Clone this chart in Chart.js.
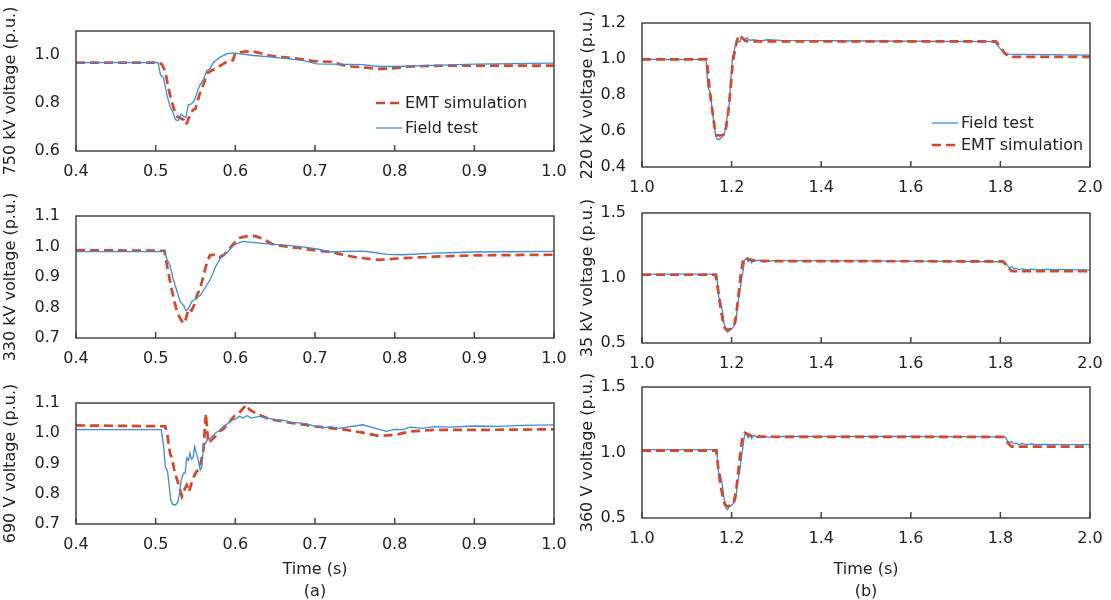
<!DOCTYPE html>
<html><head><meta charset="utf-8">
<script src="https://cdn.jsdelivr.net/npm/chart.js@4.4.1/dist/chart.umd.min.js"></script>
<style>
body{margin:0;background:#fff;width:1111px;height:600px;position:relative;overflow:hidden}
canvas{position:absolute}
</style></head><body>
<canvas id="a1"></canvas><canvas id="a2"></canvas><canvas id="a3"></canvas>
<canvas id="b1"></canvas><canvas id="b2"></canvas><canvas id="b3"></canvas>
<script>
// ---------- labels ----------
const seriesField = 'Field test';
const seriesEmt = 'EMT simulation';
const timeTitle = 'Time (s)';
const panelATitles = ['750 kV voltage (p.u.)', '330 kV voltage (p.u.)', '690 V voltage (p.u.)'];
const panelBTitles = ['220 kV voltage (p.u.)', '35 kV voltage (p.u.)', '360 V voltage (p.u.)'];
const captionA = '(a)';
const captionB = '(b)';

// ---------- (a) 750 kV ----------
const a1FieldT = [0.4,0.503,0.506,0.510,0.514,0.518,0.522,0.525,0.528,0.532,0.535,0.538,0.541,0.545,0.549,0.554,0.556,0.560,0.564,0.568,0.572,0.577,0.581,0.590,0.598,0.606,0.623,0.644,0.665,0.686,0.702,0.72,0.76,0.78,0.80,0.85,0.90,1.0];
const a1FieldV = [0.968,0.968,0.918,0.905,0.835,0.786,0.758,0.730,0.726,0.754,0.744,0.740,0.793,0.796,0.814,0.863,0.877,0.897,0.935,0.942,0.967,0.981,0.991,1.006,1.009,1.005,0.998,0.992,0.985,0.977,0.963,0.962,0.960,0.952,0.952,0.957,0.962,0.966];
const a1EmtT = [0.4,0.505,0.508,0.512,0.516,0.520,0.524,0.527,0.531,0.535,0.538,0.540,0.543,0.547,0.550,0.555,0.560,0.565,0.570,0.575,0.580,0.585,0.590,0.597,0.600,0.610,0.620,0.630,0.640,0.660,0.680,0.700,0.720,0.740,0.760,0.780,0.800,0.820,0.850,0.900,1.0];
const a1EmtV = [0.968,0.968,0.960,0.932,0.862,0.807,0.765,0.744,0.737,0.730,0.709,0.723,0.751,0.772,0.776,0.835,0.877,0.925,0.935,0.944,0.953,0.963,0.974,0.978,1.009,1.013,1.016,1.009,0.999,0.991,0.984,0.974,0.972,0.953,0.949,0.942,0.945,0.952,0.955,0.956,0.956];

// ---------- (a) 330 kV ----------
const a2FieldT = [0.4,0.511,0.514,0.518,0.522,0.527,0.531,0.535,0.538,0.541,0.545,0.550,0.556,0.562,0.569,0.575,0.581,0.590,0.598,0.609,0.624,0.645,0.666,0.687,0.704,0.72,0.74,0.76,0.77,0.79,0.81,0.85,0.9,1.0];
const a2FieldV = [0.983,0.983,0.960,0.938,0.894,0.851,0.818,0.807,0.790,0.796,0.818,0.829,0.840,0.864,0.894,0.933,0.960,0.982,1.004,1.017,1.013,1.008,1.004,0.998,0.991,0.982,0.984,0.985,0.982,0.974,0.973,0.978,0.982,0.984];
const a2EmtT = [0.4,0.511,0.515,0.519,0.523,0.527,0.531,0.535,0.538,0.541,0.545,0.549,0.552,0.556,0.560,0.564,0.568,0.574,0.580,0.585,0.590,0.596,0.600,0.605,0.615,0.625,0.635,0.645,0.660,0.680,0.700,0.720,0.730,0.750,0.780,0.800,0.850,0.900,1.0];
const a2EmtV = [0.988,0.986,0.927,0.873,0.824,0.785,0.763,0.747,0.763,0.796,0.790,0.812,0.840,0.864,0.905,0.944,0.971,0.973,0.965,0.971,0.984,1.004,1.015,1.028,1.034,1.034,1.025,1.009,1.001,0.995,0.987,0.982,0.976,0.965,0.956,0.960,0.967,0.971,0.973];

// ---------- (a) 690 V ----------
const a3FieldT = [0.4,0.507,0.510,0.512,0.515,0.517,0.519,0.521,0.525,0.528,0.530,0.532,0.535,0.537,0.539,0.541,0.543,0.545,0.547,0.549,0.551,0.553,0.556,0.558,0.560,0.565,0.570,0.575,0.580,0.585,0.590,0.595,0.600,0.605,0.610,0.615,0.620,0.630,0.640,0.650,0.660,0.670,0.680,0.690,0.700,0.710,0.720,0.730,0.740,0.750,0.760,0.775,0.790,0.800,0.810,0.820,0.835,0.850,0.870,0.900,0.930,0.960,1.0];
const a3FieldV = [1.012,1.012,0.956,0.890,0.873,0.824,0.780,0.765,0.763,0.774,0.802,0.846,0.868,0.868,0.918,0.910,0.934,0.914,0.921,0.956,0.934,0.918,0.879,0.890,0.956,0.978,0.987,1.001,1.009,1.023,1.031,1.043,1.047,1.056,1.050,1.058,1.050,1.056,1.050,1.045,1.043,1.036,1.034,1.031,1.023,1.018,1.022,1.016,1.020,1.024,1.028,1.017,1.006,1.013,1.012,1.020,1.016,1.022,1.020,1.024,1.023,1.026,1.028];
const a3EmtT = [0.4,0.512,0.515,0.518,0.521,0.524,0.527,0.530,0.533,0.536,0.539,0.542,0.545,0.548,0.551,0.554,0.557,0.560,0.563,0.566,0.570,0.575,0.580,0.585,0.590,0.595,0.600,0.605,0.610,0.614,0.618,0.625,0.630,0.640,0.650,0.660,0.670,0.680,0.700,0.720,0.740,0.760,0.780,0.800,0.820,0.850,0.900,1.0];
const a3EmtV = [1.026,1.023,0.990,0.934,0.912,0.868,0.846,0.818,0.791,0.813,0.829,0.807,0.835,0.857,0.873,0.879,0.907,0.945,1.065,0.967,0.978,0.990,1.006,1.014,1.028,1.045,1.061,1.067,1.083,1.094,1.078,1.067,1.061,1.050,1.043,1.039,1.034,1.031,1.023,1.017,1.011,1.002,0.991,0.994,1.006,1.011,1.011,1.013];

// ---------- (b) 220 kV ----------
const b1FieldT = [1.0,1.143,1.147,1.152,1.156,1.160,1.164,1.167,1.173,1.179,1.184,1.189,1.195,1.198,1.202,1.206,1.210,1.214,1.218,1.222,1.226,1.229,1.233,1.241,1.249,1.264,1.280,1.311,1.5,1.78,1.79,1.80,1.805,1.81,1.82,1.84,1.9,2.0];
const b1FieldV = [0.998,0.998,0.844,0.817,0.733,0.659,0.576,0.557,0.552,0.567,0.585,0.659,0.752,0.881,1.011,1.048,1.094,1.100,1.094,1.126,1.113,1.100,1.118,1.104,1.107,1.100,1.107,1.104,1.100,1.096,1.090,1.055,1.045,1.032,1.027,1.026,1.024,1.022];
const b1EmtT = [1.0,1.144,1.147,1.152,1.157,1.162,1.166,1.175,1.183,1.188,1.193,1.198,1.203,1.207,1.212,1.216,1.220,1.225,1.232,1.25,1.3,1.79,1.80,1.81,1.82,2.0];
const b1EmtV = [0.998,0.998,0.937,0.807,0.715,0.622,0.576,0.575,0.581,0.622,0.715,0.844,0.993,1.039,1.104,1.131,1.126,1.113,1.100,1.098,1.098,1.098,1.064,1.031,1.012,1.012];

// ---------- (b) 35 kV ----------
const b2FieldT = [1.0,1.167,1.171,1.175,1.179,1.183,1.187,1.191,1.195,1.202,1.209,1.214,1.218,1.222,1.226,1.229,1.233,1.237,1.241,1.245,1.249,1.253,1.260,1.272,1.295,1.334,1.6,1.81,1.815,1.82,1.825,1.83,1.835,1.84,1.85,1.86,1.87,1.88,1.9,1.95,2.0];
const b2FieldV = [1.030,1.030,0.857,0.819,0.755,0.653,0.597,0.582,0.597,0.615,0.653,0.806,0.883,0.985,1.061,1.138,1.151,1.125,1.143,1.117,1.143,1.133,1.138,1.125,1.133,1.133,1.130,1.125,1.100,1.075,1.090,1.070,1.075,1.065,1.070,1.062,1.068,1.063,1.066,1.064,1.063];
const b2EmtT = [1.0,1.164,1.170,1.175,1.180,1.185,1.190,1.198,1.205,1.210,1.215,1.220,1.225,1.230,1.240,1.25,1.3,1.805,1.815,1.825,2.0];
const b2EmtV = [1.025,1.025,0.908,0.781,0.679,0.615,0.602,0.607,0.628,0.704,0.857,1.010,1.125,1.156,1.143,1.133,1.130,1.128,1.090,1.052,1.052];

// ---------- (b) 360 V ----------
const b3FieldT = [1.0,1.167,1.171,1.175,1.179,1.183,1.187,1.191,1.195,1.202,1.209,1.214,1.218,1.222,1.226,1.229,1.233,1.237,1.241,1.245,1.249,1.257,1.264,1.280,1.311,1.6,1.81,1.815,1.82,1.825,1.83,1.835,1.84,1.85,1.86,1.87,1.88,1.9,1.95,2.0];
const b3FieldV = [1.022,1.022,0.844,0.832,0.755,0.653,0.582,0.564,0.589,0.602,0.640,0.781,0.857,0.959,1.061,1.133,1.143,1.112,1.138,1.107,1.133,1.117,1.125,1.117,1.122,1.122,1.120,1.095,1.070,1.085,1.068,1.072,1.062,1.068,1.060,1.065,1.060,1.062,1.060,1.060];
const b3EmtT = [1.0,1.166,1.170,1.175,1.180,1.185,1.190,1.198,1.205,1.210,1.215,1.220,1.225,1.230,1.240,1.25,1.3,1.805,1.815,1.825,2.0];
const b3EmtV = [1.015,1.015,0.883,0.755,0.666,0.602,0.589,0.597,0.622,0.704,0.857,1.010,1.133,1.151,1.133,1.122,1.120,1.120,1.080,1.045,1.045];

// ---------- styling ----------
const FONT = "'DejaVu Sans', sans-serif";
const TEXT = '#222';
const FRAME = '#444';
const BLUE = '#3f8bd6';
const RED = '#d4472a';

function pts(t, v) { return t.map((x, i) => ({ x: x, y: v[i] })); }

function fieldDs(t, v) {
  return { label: seriesField, data: pts(t, v), borderColor: BLUE, borderWidth: 1.3,
           pointRadius: 0, tension: 0, fill: false };
}
function emtDs(t, v) {
  return { label: seriesEmt, data: pts(t, v), borderColor: RED, borderWidth: 2.7,
           borderDash: [9, 5], borderCapStyle: 'butt', pointRadius: 0, tension: 0, fill: false };
}

const framePlugin = {
  id: 'frame',
  afterDatasetsDraw(chart) {
    const ctx = chart.ctx, a = chart.chartArea, xs = chart.scales.x;
    ctx.save();
    ctx.strokeStyle = FRAME; ctx.lineWidth = 1.5;
    ctx.beginPath();
    xs.ticks.forEach(tk => {
      const px = xs.getPixelForValue(tk.value);
      ctx.moveTo(px, a.bottom); ctx.lineTo(px, a.bottom - 6);
    });
    ctx.stroke();
    ctx.strokeRect(a.left, a.top, a.right - a.left, a.bottom - a.top);
    const lg = chart.options.plugins.frameLegend;
    if (lg && lg.items) {
      ctx.font = '16px ' + FONT; ctx.fillStyle = TEXT; ctx.textBaseline = 'middle'; ctx.textAlign = 'left';
      lg.items.forEach((idx, k) => {
        const ds = chart.data.datasets[idx];
        const y = a.top + lg.y + k * lg.gap;
        const x0 = a.left + lg.x;
        ctx.save();
        ctx.strokeStyle = ds.borderColor; ctx.lineWidth = ds.borderWidth;
        ctx.setLineDash(ds.borderDash || []);
        ctx.beginPath(); ctx.moveTo(x0, y); ctx.lineTo(x0 + 26, y); ctx.stroke();
        ctx.restore();
        ctx.fillText(ds.label, x0 + 29, y + 1);
      });
    }
    ctx.restore();
  }
};

function makePanel(p) {
  const cv = document.getElementById(p.id);
  cv.width = p.w; cv.height = p.h;
  cv.style.left = p.left + 'px'; cv.style.top = p.top + 'px';
  cv.style.width = p.w + 'px'; cv.style.height = p.h + 'px';
  const yW = p.pl - p.left, xH = (p.top + p.h) - p.pb;
  new Chart(cv, {
    type: 'line',
    data: { datasets: p.datasets },
    plugins: [framePlugin],
    options: {
      responsive: false, animation: false, devicePixelRatio: 1,
      layout: { padding: { top: p.pt - p.top, right: (p.left + p.w) - p.pr, left: 0, bottom: 0 } },
      plugins: { legend: { display: false }, tooltip: { enabled: false },
                 frameLegend: p.legend || null },
      scales: {
        x: {
          type: 'linear', min: p.xmin, max: p.xmax,
          grid: { display: false }, border: { display: false },
          ticks: { stepSize: p.xstep, includeBounds: false, padding: 3, color: TEXT, maxRotation: 0,
                   font: { family: FONT, size: 16 }, callback: v => Number(v).toFixed(1) },
          title: p.xtitle ? { display: true, text: p.xtitle, color: TEXT, padding: { top: 0, bottom: -3 },
                   font: { family: FONT, size: 16, lineHeight: 1.375 } } : { display: false },
          afterFit: s => { s.height = xH; }
        },
        y: {
          type: 'linear', min: p.ymin, max: p.ymax,
          grid: { display: false }, border: { display: false },
          ticks: { stepSize: p.ystep, includeBounds: false, padding: 8, color: TEXT,
                   font: { family: FONT, size: 16 }, callback: v => Number(v).toFixed(1) },
          title: { display: true, text: p.ytitle, color: TEXT, padding: { top: p.ytpad, bottom: 0 },
                   font: { family: FONT, size: 16, lineHeight: 1.2 } },
          afterFit: s => { s.width = yW; }
        }
      }
    }
  });
}

const A = { left: 0, w: 575, pl: 76, pr: 554, xmin: 0.4, xmax: 1.0, xstep: 0.1, ytpad: 1 };
const B = { left: 575, w: 536, pl: 642, pr: 1090, xmin: 1.0, xmax: 2.0, xstep: 0.2, ytpad: 3 };

makePanel(Object.assign({}, A, { id: 'a1', top: 0, h: 185, pt: 31, pb: 151, ymin: 0.6, ymax: 1.1, ystep: 0.2,
  ytitle: panelATitles[0], datasets: [fieldDs(a1FieldT, a1FieldV), emtDs(a1EmtT, a1EmtV)],
  legend: { items: [1, 0], x: 300, y: 72, gap: 25 } }));
makePanel(Object.assign({}, A, { id: 'a2', top: 180, h: 195, pt: 216, pb: 338, ymin: 0.7, ymax: 1.1, ystep: 0.1,
  ytitle: panelATitles[1], datasets: [fieldDs(a2FieldT, a2FieldV), emtDs(a2EmtT, a2EmtV)] }));
makePanel(Object.assign({}, A, { id: 'a3', top: 365, h: 235, pt: 403, pb: 524, ymin: 0.7, ymax: 1.1, ystep: 0.1,
  ytitle: panelATitles[2], xtitle: [timeTitle, captionA],
  datasets: [fieldDs(a3FieldT, a3FieldV), emtDs(a3EmtT, a3EmtV)] }));

makePanel(Object.assign({}, B, { id: 'b1', top: 0, h: 200, pt: 23, pb: 167, ymin: 0.4, ymax: 1.2, ystep: 0.2,
  ytitle: panelBTitles[0], datasets: [emtDs(b1EmtT, b1EmtV), fieldDs(b1FieldT, b1FieldV)],
  legend: { items: [1, 0], x: 290, y: 100, gap: 22 } }));
makePanel(Object.assign({}, B, { id: 'b2', top: 185, h: 195, pt: 213, pb: 343, ymin: 0.5, ymax: 1.5, ystep: 0.5,
  ytitle: panelBTitles[1], datasets: [emtDs(b2EmtT, b2EmtV), fieldDs(b2FieldT, b2FieldV)] }));
makePanel(Object.assign({}, B, { id: 'b3', top: 360, h: 240, pt: 387, pb: 518, ymin: 0.5, ymax: 1.5, ystep: 0.5,
  ytitle: panelBTitles[2], xtitle: [timeTitle, captionB],
  datasets: [emtDs(b3EmtT, b3EmtV), fieldDs(b3FieldT, b3FieldV)] }));
</script>
</body></html>
